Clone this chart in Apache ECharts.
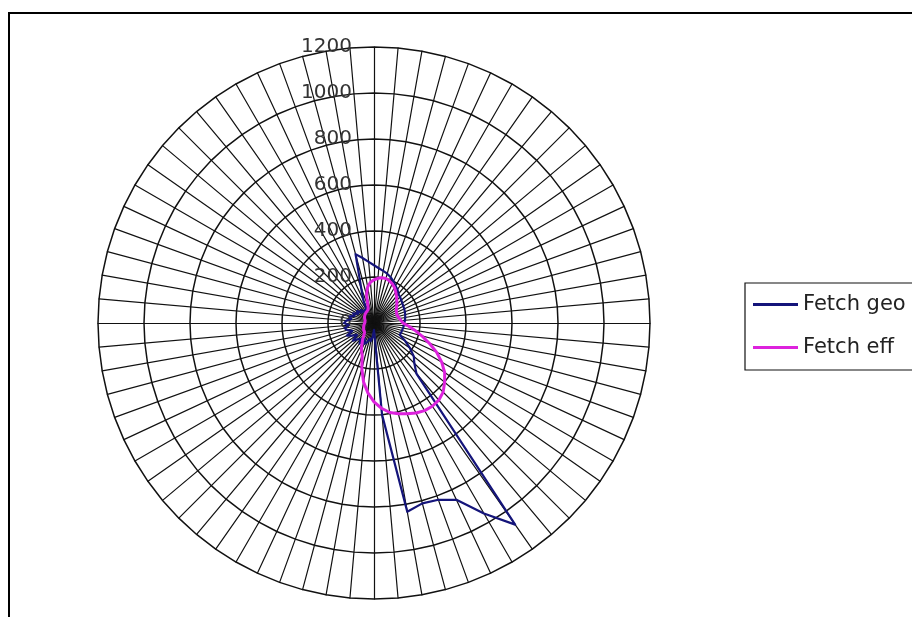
<!DOCTYPE html>
<html><head><meta charset="utf-8">
<script src="https://cdn.jsdelivr.net/npm/echarts@6/dist/echarts.min.js"></script>
<style>html,body{margin:0;padding:0;background:#fff}#c{width:912px;height:617px}</style>
</head><body><div id="c"></div>
<script>
// compass directions (degrees, clockwise from north)
const directions = [0,5,10,15,20,25,30,35,40,45,50,55,60,65,70,75,80,85,90,95,100,105,110,115,
  120,125,130,135,140,145,150,155,160,165,170,175,180,185,190,195,200,205,210,215,220,225,230,235,
  240,245,250,255,260,265,270,275,280,285,290,295,300,305,310,315,320,325,330,335,340,345,350,355];
const radialTicks = [0,200,400,600,800,1000,1200];
const seriesNames = ['Fetch geo','Fetch eff'];
const fetchGeo = [251,239,230,222,212,200,187,178,165,160,155,150,147,145,143,140,138,135,132,130,128,126,125,124,
  157,191,226,248,287,1070,956,848,818,812,833,400,30,60,80,70,90,100,80,110,90,100,120,90,
  110,130,100,120,130,110,130,120,100,110,90,100,80,90,70,80,60,70,60,110,164,310,287,267];
const fetchEff = [188,195,200,200,195,188,178,165,152,140,130,120,112,108,106,108,112,118,126,150,180,215,255,300,
  340,375,401,425,438,442,440,432,420,408,395,372,343,305,261,205,150,130,105,85,68,58,55,55,
  52,50,48,46,44,42,40,40,40,40,42,45,48,50,52,54,56,58,60,62,75,126,159,178];

const n = directions.length;
// ECharts radar runs counter-clockwise; reorder so directions go clockwise from the top
const toRadarOrder = arr => directions.map((d, k) => arr[(n - k) % n]);
const rMax = radialTicks[radialTicks.length - 1];
const indicator = directions.map((d, k) => ({ name: String(directions[(n - k) % n]), min: 0, max: rMax }));
indicator[0].axisLabel = { show: true };

const chart = echarts.init(document.getElementById('c'), null, { renderer: 'canvas' });
chart.setOption({
  backgroundColor: '#ffffff',
  animation: false,
  graphic: [{
    type: 'rect', shape: { x: 9, y: 13, width: 1000, height: 1000 },
    style: { fill: 'none', stroke: '#000', lineWidth: 2 }, silent: true, z: 0
  }],
  legend: {
    orient: 'vertical', left: 745, top: 283,
    data: seriesNames,
    icon: 'rect', itemWidth: 45, itemHeight: 3, itemGap: 22,
    padding: [11, 300, 12, 8],
    borderColor: '#111', borderWidth: 1.2,
    textStyle: { fontFamily: 'DejaVu Sans', fontSize: 21, color: '#222' }
  },
  radar: {
    center: [374, 323], radius: 276, startAngle: 90,
    splitNumber: radialTicks.length - 1,
    shape: 'polygon',
    indicator: indicator,
    axisName: { show: false },
    axisLine: { lineStyle: { color: '#111', width: 1.2 } },
    splitLine: { lineStyle: { color: '#111', width: 1.5 } },
    splitArea: { show: false },
    axisTick: { show: false },
    axisLabel: { show: false, fontFamily: 'DejaVu Sans', fontSize: 20, color: '#333', margin: 22,
      formatter: v => String(v) }
  },
  series: [{
    type: 'radar', symbol: 'none', z: 3,
    data: [
      { name: seriesNames[0], value: toRadarOrder(fetchGeo),
        lineStyle: { color: '#14147a', width: 2.2 }, itemStyle: { color: '#14147a' } },
      { name: seriesNames[1], value: toRadarOrder(fetchEff),
        lineStyle: { color: '#dd22dd', width: 3 }, itemStyle: { color: '#dd22dd' } }
    ]
  }]
});
</script></body></html>
